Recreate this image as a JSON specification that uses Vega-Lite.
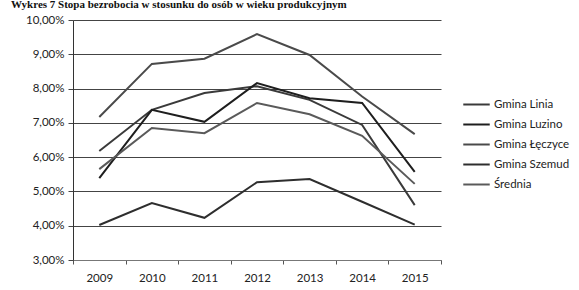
{
  "$schema": "https://vega.github.io/schema/vega-lite/v6.json",
  "width": 368,
  "height": 240,
  "autosize": {"type": "none"},
  "padding": {"left": 73, "top": 20, "right": 138, "bottom": 30},
  "background": "white",
  "title": {
    "text": "Wykres 7 Stopa bezrobocia w stosunku do osób w wieku produkcyjnym",
    "anchor": "start",
    "frame": "group",
    "dx": -62,
    "offset": -7,
    "baseline": "bottom",
    "font": "Liberation Serif",
    "fontSize": 11,
    "fontWeight": "bold",
    "color": "#111"
  },
  "data": {
    "values": [
      {"year": "2009", "gmina": "Gmina Linia", "value": 6.18},
      {"year": "2010", "gmina": "Gmina Linia", "value": 7.38},
      {"year": "2011", "gmina": "Gmina Linia", "value": 7.87},
      {"year": "2012", "gmina": "Gmina Linia", "value": 8.07},
      {"year": "2013", "gmina": "Gmina Linia", "value": 7.67},
      {"year": "2014", "gmina": "Gmina Linia", "value": 6.94},
      {"year": "2015", "gmina": "Gmina Linia", "value": 4.6},
      {"year": "2009", "gmina": "Gmina Luzino", "value": 5.39},
      {"year": "2010", "gmina": "Gmina Luzino", "value": 7.38},
      {"year": "2011", "gmina": "Gmina Luzino", "value": 7.03},
      {"year": "2012", "gmina": "Gmina Luzino", "value": 8.16},
      {"year": "2013", "gmina": "Gmina Luzino", "value": 7.72},
      {"year": "2014", "gmina": "Gmina Luzino", "value": 7.58},
      {"year": "2015", "gmina": "Gmina Luzino", "value": 5.57},
      {"year": "2009", "gmina": "Gmina Łęczyce", "value": 7.17},
      {"year": "2010", "gmina": "Gmina Łęczyce", "value": 8.72},
      {"year": "2011", "gmina": "Gmina Łęczyce", "value": 8.87},
      {"year": "2012", "gmina": "Gmina Łęczyce", "value": 9.59},
      {"year": "2013", "gmina": "Gmina Łęczyce", "value": 8.98},
      {"year": "2014", "gmina": "Gmina Łęczyce", "value": 7.77},
      {"year": "2015", "gmina": "Gmina Łęczyce", "value": 6.67},
      {"year": "2009", "gmina": "Gmina Szemud", "value": 4.02},
      {"year": "2010", "gmina": "Gmina Szemud", "value": 4.66},
      {"year": "2011", "gmina": "Gmina Szemud", "value": 4.23},
      {"year": "2012", "gmina": "Gmina Szemud", "value": 5.27},
      {"year": "2013", "gmina": "Gmina Szemud", "value": 5.36},
      {"year": "2014", "gmina": "Gmina Szemud", "value": 4.7},
      {"year": "2015", "gmina": "Gmina Szemud", "value": 4.03},
      {"year": "2009", "gmina": "Średnia", "value": 5.65},
      {"year": "2010", "gmina": "Średnia", "value": 6.85},
      {"year": "2011", "gmina": "Średnia", "value": 6.7},
      {"year": "2012", "gmina": "Średnia", "value": 7.58},
      {"year": "2013", "gmina": "Średnia", "value": 7.25},
      {"year": "2014", "gmina": "Średnia", "value": 6.62},
      {"year": "2015", "gmina": "Średnia", "value": 5.22}
    ]
  },
  "mark": {"type": "line", "strokeWidth": 2},
  "encoding": {
    "x": {
      "field": "year",
      "type": "ordinal",
      "scale": {"paddingInner": 0, "paddingOuter": 0},
      "axis": {
        "title": null,
        "labelAngle": 0,
        "tickBand": "extent",
        "tickSize": 4,
        "labelPadding": 8,
        "domainColor": "#777",
        "tickColor": "#555"
      }
    },
    "y": {
      "field": "value",
      "type": "quantitative",
      "scale": {"domain": [3, 10], "nice": false, "zero": false},
      "axis": {
        "title": null,
        "values": [3, 4, 5, 6, 7, 8, 9, 10],
        "labelExpr": "replace(format(datum.value, '.2f'), '.', ',') + '%'",
        "grid": true,
        "gridColor": "#444",
        "gridOpacity": 1,
        "gridWidth": 1,
        "tickSize": 5,
        "tickColor": "#444",
        "labelPadding": 4,
        "domain": true,
        "domainColor": "#333"
      }
    },
    "color": {
      "field": "gmina",
      "type": "nominal",
      "scale": {
        "domain": ["Gmina Linia", "Gmina Luzino", "Gmina Łęczyce", "Gmina Szemud", "Średnia"],
        "range": ["#3a3a3a", "#1e1e1e", "#4a4a4a", "#2e2e2e", "#5a5a5a"]
      },
      "legend": {
        "title": null,
        "orient": "none",
        "legendX": 389,
        "legendY": 70,
        "symbolType": "stroke",
        "symbolSize": 700,
        "symbolStrokeWidth": 2,
        "labelFontSize": 11.5,
        "labelFont": "Lato",
        "labelColor": "#222",
        "rowPadding": -2.5,
        "labelOffset": 3
      }
    }
  },
  "config": {
    "view": {"stroke": null},
    "axis": {
      "labelFont": "Lato",
      "labelFontSize": 11.5,
      "labelColor": "#222"
    }
  }
}
